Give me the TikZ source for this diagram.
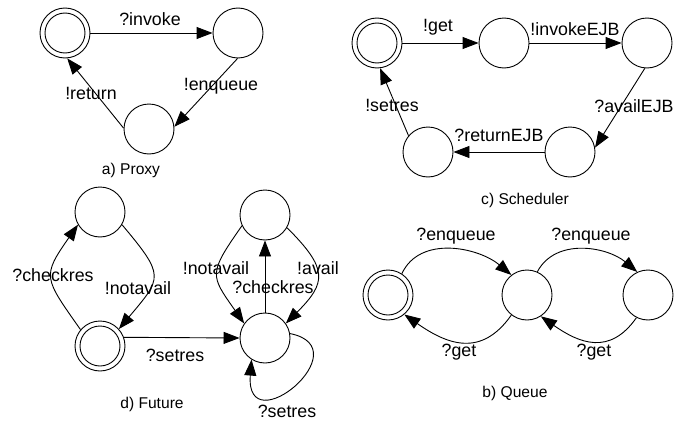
\documentclass[tikz,border=0pt]{standalone}
\usepackage{fontspec}
\setmainfont{Liberation Sans}
\usetikzlibrary{arrows.meta}

\tikzset{
  state/.style={circle, draw, line width=0.9pt, minimum size=50pt, inner sep=0pt},
  accepting/.style={state, path picture={
      \draw[line width=0.9pt] (path picture bounding box.center) circle (20pt);}},
  trans/.style={draw, line width=0.9pt, -{Triangle[length=16pt, width=12pt]}},
  lbl/.style={inner sep=0pt, font=\fontsize{17.8}{20}\selectfont},
  caption/.style={inner sep=0pt, font=\fontsize{15.6}{18}\selectfont}
}

\begin{document}
\begin{tikzpicture}[x=1pt, y=1pt]
  \useasboundingbox (0,0) rectangle (675,-423);
  \fill[white] (0,0) rectangle (675,-423);

  % ---------- a) Proxy ----------
  \node[accepting] (p0) at (65,-33) {};
  \node[state] (p1) at (238,-33) {};
  \node[state] (p2) at (149,-129) {};
  \draw[trans] (p0) -- (p1);
  \draw[trans] (p1.269) -- (p2.5);
  \draw[trans] (p2.178) -- (p0.275);
  \node[lbl] (pl1) at (150,-19) {?invoke};
  \node[lbl] (pl2) at (221,-86) {!enqueue};
  \node[lbl] (pl3) at (91,-93) {!return};
  \node[caption] (pcap) at (131,-170) {a) Proxy};

  % ---------- c) Scheduler ----------
  \node[accepting] (s0) at (377,-43) {};
  \node[state] (s1) at (504,-43) {};
  \node[state] (s2) at (647,-43) {};
  \node[state] (s3) at (570,-152) {};
  \node[state] (s4) at (428,-152) {};
  \draw[trans] (s0) -- (s1);
  \draw[trans] (s1) -- (s2);
  \draw[trans] (s2.265) -- (s3.10);
  \draw[trans] (s3) -- (s4);
  \draw[trans] (s4.140) -- (s0.277);
  \node[lbl] (sl1) at (438,-27) {!get};
  \node[lbl] (sl2) at (575,-29) {!invokeEJB};
  \node[lbl] (sl3) at (634,-106) {?availEJB};
  \node[lbl] (sl4) at (499,-135) {?returnEJB};
  \node[lbl] (sl5) at (392,-105) {!setres};
  \node[caption] (scap) at (525,-200) {c) Scheduler};

  % ---------- d) Future ----------
  \node[state] (f0) at (100,-212) {};
  \node[accepting] (f1) at (100,-346) {};
  \node[state] (f2) at (265,-215) {};
  \node[state] (f3) at (265,-338) {};
  \draw[trans] (f1.140) to[out=125, in=235, looseness=1.55] (f0.210);
  \draw[trans] (f0.330) to[out=-50, in=50, looseness=1.65] (f1.42);
  \draw[trans] (f1.20) -- (f3.west);
  \draw[trans] (f2.205) to[out=235, in=125, looseness=1.55] (f3.145);
  \draw[trans] (f2.330) to[out=-45, in=45, looseness=1.55] (f3.35);
  \draw[trans] (f3.north) -- (f2.south);
  \draw[trans] (f3.10) .. controls (362,-348) and (245,-445) .. (f3.238);
  \node[lbl] (fl1) at (53,-275) {?checkres};
  \node[lbl] (fl2) at (138,-288) {!notavail};
  \node[lbl] (fl3) at (175,-355) {?setres};
  \node[lbl] (fl4) at (216,-268) {!notavail};
  \node[lbl] (fl5) at (318,-268) {!avail};
  \node[lbl] (fl6) at (273,-287) {?checkres};
  \node[lbl] (fl7) at (287,-411) {?setres};
  \node[caption] (fcap) at (152,-404) {d) Future};

  % ---------- b) Queue ----------
  \node[accepting] (q0) at (388,-295) {};
  \node[state] (q1) at (527,-295) {};
  \node[state] (q2) at (648,-295) {};
  \draw[trans] (q0.57) to[out=65, in=140] (q1.128);
  \draw[trans] (q1.66) to[out=62, in=140] (q2.115);
  \draw[trans] (q1.232) to[out=235, in=-35, looseness=1.25] (q0.310);
  \draw[trans] (q2.243) to[out=235, in=-35, looseness=1.25] (q1.303);
  \node[lbl] (ql1) at (456,-236) {?enqueue};
  \node[lbl] (ql2) at (591,-236) {?enqueue};
  \node[lbl] (ql3) at (459,-352) {?get};
  \node[lbl] (ql4) at (594,-352) {?get};
  \node[caption] (qcap) at (515,-393) {b) Queue};
\end{tikzpicture}
\end{document}
